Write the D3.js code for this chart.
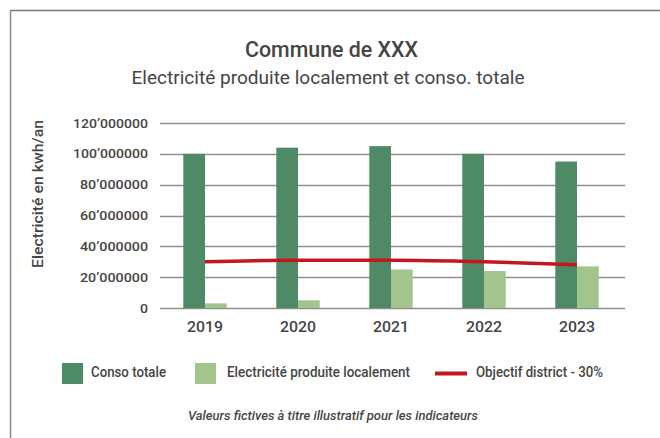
<!doctype html>
<html>
<head>
<meta charset="utf-8">
<script src="https://d3js.org/d3.v7.min.js"></script>
<style>
  body { margin: 0; background: #fff; }
  text { font-family: Roboto, "Open Sans", sans-serif; fill: #454545; }
</style>
</head>
<body>
<svg width="660" height="438"></svg>
<script>
var years = ["2019", "2020", "2021", "2022", "2023"];
var consoTotale = [100000000, 104000000, 105000000, 100000000, 95000000];
var prodLocale = [3000000, 5000000, 25000000, 24000000, 27000000];
var objectif = [30000000, 31000000, 31000000, 30000000, 28000000];
var yTicks = [0, 20000000, 40000000, 60000000, 80000000, 100000000, 120000000];

var svg = d3.select("svg");
var dark = "#4f8a66", light = "#a3c48d", red = "#c3161f";

// cadre (haut + gauche seulement)
svg.append("line").attr("x1", 10).attr("x2", 660).attr("y1", 10.5).attr("y2", 10.5)
   .attr("stroke", "#7a7a7a").attr("stroke-width", 1.5);
svg.append("line").attr("x1", 10.5).attr("x2", 10.5).attr("y1", 10).attr("y2", 438)
   .attr("stroke", "#8a8a8a").attr("stroke-width", 1.5);

function label(x, y, size, weight, len, txt) {
  return svg.append("text").attr("x", x).attr("y", y)
    .attr("font-size", size + "px").attr("font-weight", weight)
    .attr("textLength", len).attr("lengthAdjust", "spacingAndGlyphs")
    .text(txt);
}

label(331.5, 57, 22, 500, 173, "Commune de XXX").attr("text-anchor", "middle");
label(328, 84, 19, 400, 393, "Electricité produite localement et conso. totale").attr("text-anchor", "middle");

var pLeft = 160, pRight = 625, pTop = 123, pBottom = 308;
var x = d3.scaleBand().domain(years).range([pLeft, pRight]);
var y = d3.scaleLinear().domain([0, 120000000]).range([pBottom, pTop]);
var bw = 21.7;
var cx = function(d) { return x(d) + x.bandwidth() / 2 - 1.5; };

var fmt = function(d) {
  if (d === 0) return "0";
  return Math.floor(d / 1000000) + "\u2019000000";
};

// grille
svg.append("g").selectAll("line").data(yTicks).enter().append("line")
   .attr("x1", pLeft).attr("x2", pRight)
   .attr("y1", function(d) { return Math.round(y(d)) + 0.5; })
   .attr("y2", function(d) { return Math.round(y(d)) + 0.5; })
   .attr("stroke", "#8f8f8f").attr("stroke-width", 1.3);

svg.append("g").selectAll("text").data(yTicks).enter().append("text")
   .attr("x", 148).attr("y", function(d) { return y(d) + 4.5; })
   .attr("text-anchor", "end").attr("font-size", "13px").attr("font-weight", 500)
   .attr("textLength", function(d) { return d === 0 ? 8 : (d >= 100000000 ? 75 : 68); })
   .attr("lengthAdjust", "spacingAndGlyphs")
   .text(fmt);

svg.append("text")
   .attr("transform", "translate(43,194) rotate(-90)")
   .attr("text-anchor", "middle").attr("font-size", "15px").attr("font-weight", 500)
   .attr("textLength", 148).attr("lengthAdjust", "spacingAndGlyphs")
   .text("Electricité en kwh/an");

// barres
svg.append("g").selectAll("rect").data(years).enter().append("rect")
   .attr("x", function(d) { return cx(d) - bw; })
   .attr("y", function(d, i) { return y(consoTotale[i]); })
   .attr("width", bw)
   .attr("height", function(d, i) { return pBottom - y(consoTotale[i]); })
   .attr("fill", dark);

svg.append("g").selectAll("rect").data(years).enter().append("rect")
   .attr("x", function(d) { return cx(d); })
   .attr("y", function(d, i) { return y(prodLocale[i]); })
   .attr("width", bw)
   .attr("height", function(d, i) { return pBottom - y(prodLocale[i]); })
   .attr("fill", light);

// ligne objectif
var line = d3.line()
   .x(function(d, i) { return cx(years[i]); })
   .y(function(d) { return y(d); })
   .curve(d3.curveMonotoneX);
svg.append("path").datum(objectif).attr("d", line)
   .attr("fill", "none").attr("stroke", red).attr("stroke-width", 3.5);

// axe x
svg.append("g").selectAll("text").data(years).enter().append("text")
   .attr("x", cx).attr("y", 332).attr("text-anchor", "middle")
   .attr("font-size", "15px").attr("font-weight", 500)
   .attr("textLength", 36).attr("lengthAdjust", "spacingAndGlyphs")
   .text(function(d) { return d; });

// légende
svg.append("rect").attr("x", 62).attr("y", 363).attr("width", 21).attr("height", 21).attr("fill", dark);
label(91, 377, 14, 500, 75, "Conso totale");
svg.append("rect").attr("x", 195).attr("y", 363).attr("width", 21).attr("height", 21).attr("fill", light);
label(227, 377, 14, 500, 183, "Electricité produite localement");
svg.append("line").attr("x1", 435).attr("x2", 467).attr("y1", 373.5).attr("y2", 373.5)
  .attr("stroke", red).attr("stroke-width", 4);
label(476, 377, 14, 500, 127, "Objectif district - 30%");

label(333, 420, 13, 500, 290, "Valeurs fictives à titre illustratif pour les indicateurs")
  .attr("text-anchor", "middle").attr("font-style", "italic");
</script>
</body>
</html>
